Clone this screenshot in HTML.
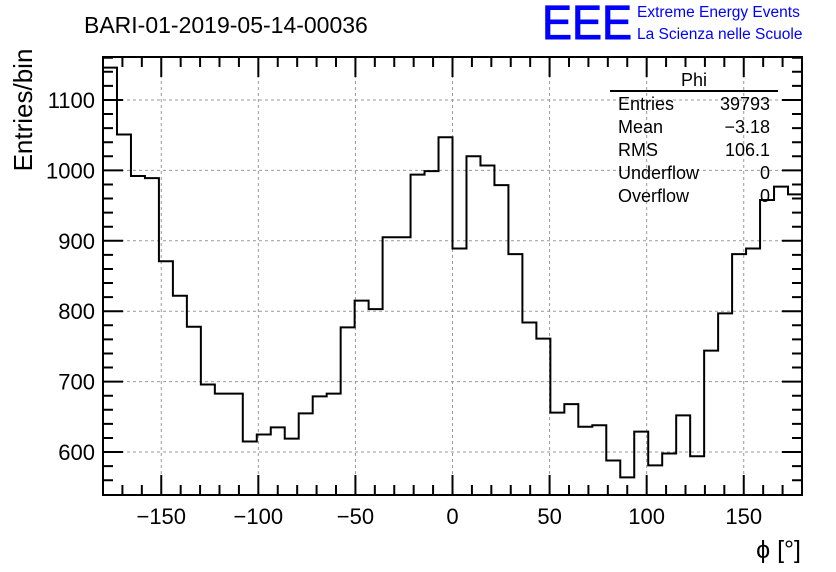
<!DOCTYPE html>
<html><head><meta charset="utf-8"><style>
body{margin:0;background:#fff;}
svg{display:block;font-family:"Liberation Sans",sans-serif;}
</style></head><body>
<svg id="c" width="836" height="572" viewBox="0 0 836 572" xmlns="http://www.w3.org/2000/svg">
<rect width="836" height="572" fill="#fff"/>
<text x="84" y="33" font-size="23">BARI-01-2019-05-14-00036</text>
<text x="542" y="39" font-size="48" fill="#0000ff" stroke="#0000ff" stroke-width="1" textLength="90" lengthAdjust="spacingAndGlyphs">EEE</text>
<text x="637" y="17" font-size="15.5" fill="#0000ff">Extreme Energy Events</text>
<text x="637" y="39" font-size="15.5" fill="#0000ff">La Scienza nelle Scuole</text>
<g id="grid"></g>
<g id="axes"></g>
<path id="hist" fill="none" stroke="#000" stroke-width="2"/>
<text transform="translate(32,110) rotate(-90)" text-anchor="middle" font-size="26">Entries/bin</text>
<text x="801" y="558" text-anchor="end" font-size="25">ϕ [°]</text>
<g font-size="18">
<text x="694" y="86" text-anchor="middle">Phi</text>
<line x1="610" y1="91" x2="778" y2="91" stroke="#000" stroke-width="2"/>
<text x="618" y="110">Entries</text><text x="770" y="110" text-anchor="end">39793</text>
<text x="618" y="133">Mean</text><text x="770" y="133" text-anchor="end">−3.18</text>
<text x="618" y="156">RMS</text><text x="770" y="156" text-anchor="end">106.1</text>
<text x="618" y="179">Underflow</text><text x="770" y="179" text-anchor="end">0</text>
<text x="618" y="202">Overflow</text><text x="770" y="202" text-anchor="end">0</text>
</g>
</svg>
<script>
const binLow = -180;
const binWidth = 7.2;
const counts = [1146,1051,992,989,871,822,778,696,683,683,615,625,635,619,655,679,683,777,815,803,905,905,994,999,1047,
889,1020,1007,979,881,784,761,656,668,636,638,588,564,629,581,598,652,594,744,797,881,889,958,977,966];
const xTicks = [-150,-100,-50,0,50,100,150];
const yTicks = [600,700,800,900,1000,1100];
const L=103,R=802,T=57,B=495;
const xmin=-180,xmax=180,ymin=539,ymax=1161;
const X=v=>L+(v-xmin)/(xmax-xmin)*(R-L);
const Y=v=>B-(v-ymin)/(ymax-ymin)*(B-T);
const NS="http://www.w3.org/2000/svg";
const grid=document.getElementById('grid'),axes=document.getElementById('axes');
function mk(tag,at,parent){const e=document.createElementNS(NS,tag);for(const k in at)e.setAttribute(k,at[k]);parent.appendChild(e);return e;}
xTicks.forEach(v=>{
  const g=mk('line',{x1:X(v),x2:X(v),y1:T,y2:B,stroke:'#999','stroke-dasharray':'3,3','stroke-width':1},grid);
  
  
  const t=mk('text',{x:X(v),y:B+29,'text-anchor':'middle','font-size':22},axes);
  t.textContent=v<0?'−'+(-v):String(v);
  
  
});
yTicks.forEach(v=>{
  const g=mk('line',{x1:L,x2:R,y1:Y(v),y2:Y(v),stroke:'#999','stroke-dasharray':'3,3','stroke-width':1},grid);
  
  
  const t=mk('text',{x:L-8,y:Y(v)+8,'text-anchor':'end','font-size':22},axes);
  t.textContent=String(v);
  
  
});
const frame=mk('rect',{x:L,y:T,width:R-L,height:B-T,fill:'none',stroke:'#000','stroke-width':2},axes);


let d='';
for(let v=-170;v<=170;v+=10){const maj=v%50===0;const len=maj?20:10;const x=X(v);
 d+=`M${x},${B}v${-len}M${x},${T}v${len}`;}
for(let v=560;v<=1160;v+=20){const maj=v%100===0;const len=maj?20:10;const y=Y(v);
 d+=`M${L},${y}h${len}M${R},${y}h${-len}`;}
const tk=mk('path',{d:d,stroke:'#000','stroke-width':2,fill:'none'},axes);


let p='';
counts.forEach((c,i)=>{const x0=X(binLow+i*binWidth),x1=X(binLow+(i+1)*binWidth),y=Y(c);
 p+=(i===0?`M${x0},${y}`:`V${y}`)+`H${x1}`;});
document.getElementById('hist').setAttribute('d',p);
</script>
</body></html>
